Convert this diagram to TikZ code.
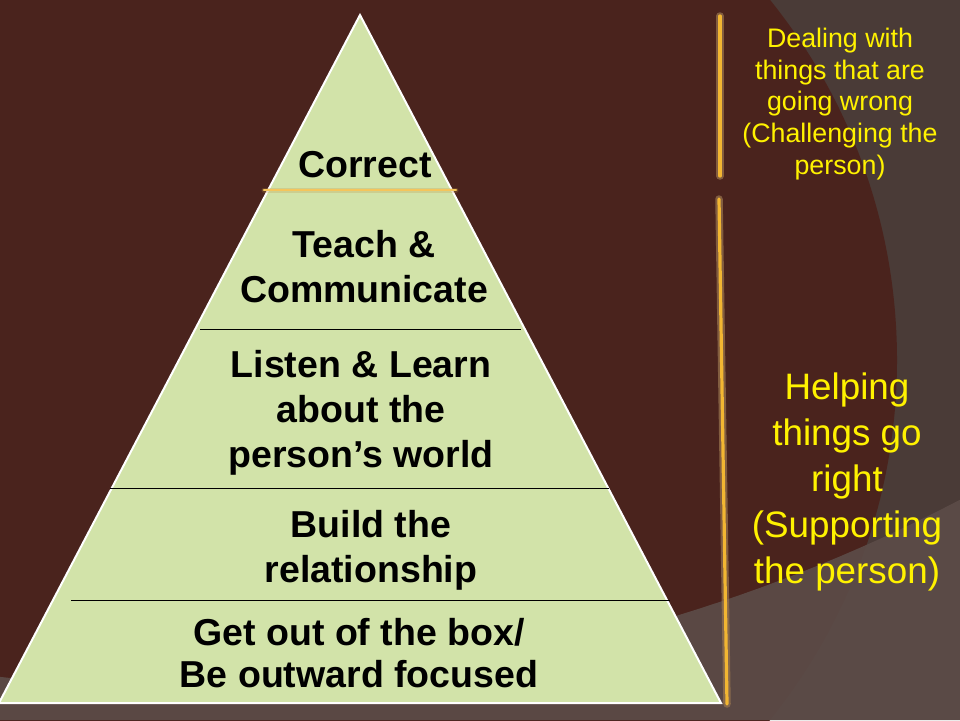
\documentclass[tikz,border=0pt]{standalone}
\usepackage{fontspec}
\setmainfont{Liberation Sans}
\usepackage{xcolor}
\usetikzlibrary{calc, positioning}

\definecolor{slidebrown}{HTML}{4A231D}
\definecolor{slidegray}{HTML}{4A3B37}
\definecolor{bandgray}{HTML}{5C4C48}
\definecolor{leafgreen}{HTML}{D2E3A9}
\definecolor{barGold}{HTML}{F2B632}
\definecolor{barHalo}{HTML}{9A7650}

\begin{document}
\begin{tikzpicture}[x=1pt, y=-1pt,
  goldbar/.style={draw=barGold, line width=3.2, line cap=round,
    preaction={draw=barHalo, line width=7.5, opacity=0.7, line cap=round}},
  layer/.style={font=\bfseries\fontsize{37.5}{45}\selectfont, align=center, text=black},
  sidenote/.style={text=yellow, align=center}]
\useasboundingbox (0,0) rectangle (960,720);

% Background: plain slide, big dark circle, lighter band at the bottom
\begin{scope}
\clip (0,0) rectangle (960,720);
\fill[slidegray] (0,0) rectangle (960,720);
\fill[slidebrown] (323,360) circle (574);
\fill[bandgray, opacity=0.92] (0,720) -- plot[domain=0:960, samples=49] (\x, {100*sqrt(16.61^2-((\x-192)/100)^2)-973}) -- (960,720) -- cycle;
\end{scope}

% Pyramid
\coordinate (apex) at (360,15);
\coordinate (left) at (-1,703);
\coordinate (right) at (721,703);
\draw[fill=leafgreen, draw=white, line width=2] (apex) -- (left) -- (right) -- cycle;

% Dividers
\draw[draw=barGold!80!white, line width=2.8, line cap=round, preaction={draw=barHalo!60!barGold, line width=5, opacity=0.25, line cap=round}] (264,190) -- (456,190);
\draw[black, line width=0.8] (200,329) -- (521,329);
\draw[black, line width=0.8] (110,488) -- (609,488);
\draw[black, line width=0.8] (71,600) -- (670,600);

% Layer labels
\node[layer] (correct) at (365,165) {Correct};
\node[layer] (teach) at (364,267) {Teach \&\\Communicate};
\node[layer] (listen) at (361,413) {Listen \& Learn\\about the\\person’s world};
\node[layer] (build) at (371,550) {Build the\\relationship};
\node[layer, font=\bfseries\fontsize{37.5}{42}\selectfont] (getout) at (359,653) {Get out of the box/\\Be outward focused};

% Side bars
\draw[goldbar] (720,16) -- (720,176);
\draw[goldbar] (719,199) -- (727,704);

% Side notes
\node[sidenote, font=\fontsize{26.8}{31.7}\selectfont] (dealing) at (840,104) {Dealing with\\things that are\\going wrong\\(Challenging the\\person)};
\node[sidenote, font=\fontsize{36.8}{46}\selectfont] (helping) at (847,482) {Helping\\things go\\right\\(Supporting\\the person)};
\end{tikzpicture}
\end{document}
